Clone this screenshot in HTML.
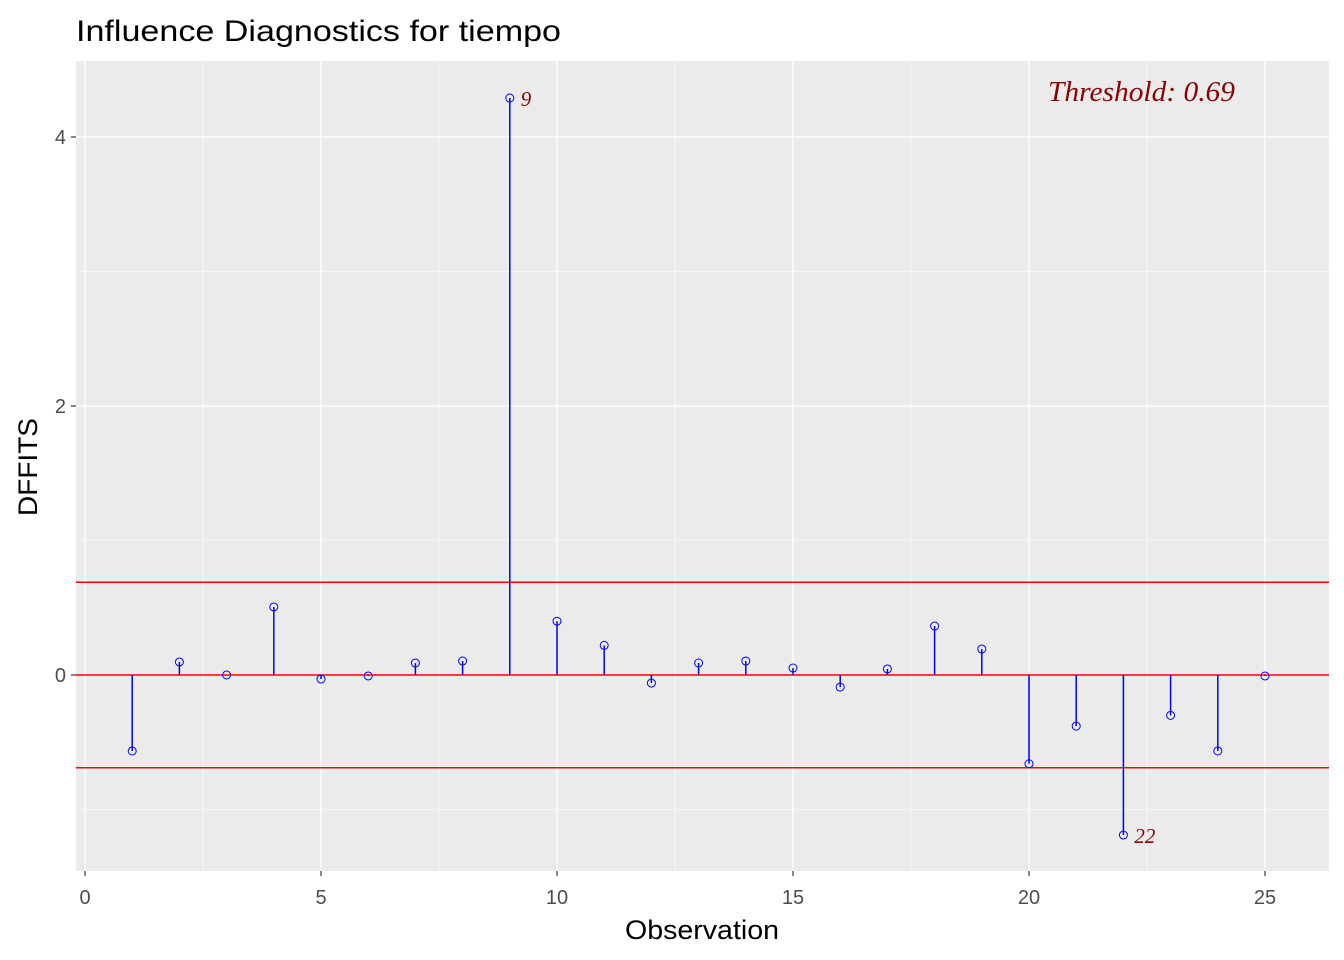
<!DOCTYPE html>
<html><head><meta charset="utf-8"><style>
html,body{margin:0;padding:0;background:#fff}
svg{display:block;font-family:"Liberation Sans",sans-serif}
</style></head><body>
<svg id="chart" width="1344" height="960" xmlns="http://www.w3.org/2000/svg">
<text x="76" y="41" font-size="30" textLength="485" lengthAdjust="spacingAndGlyphs" fill="#000">Influence Diagnostics for tiempo</text>
<rect x="76" y="61" width="1253" height="810" fill="#ebebeb"/>
<g id="grid"></g>
<g id="marks"></g>
<text x="1048" y="101" font-size="28" textLength="187" lengthAdjust="spacingAndGlyphs" font-style="italic" fill="#8b0000" font-family="Liberation Serif, serif">Threshold: 0.69</text>
<text x="625" y="939" font-size="27" textLength="154" lengthAdjust="spacingAndGlyphs" fill="#000">Observation</text>
<text transform="translate(37,516) rotate(-90)" font-size="27" textLength="98" lengthAdjust="spacingAndGlyphs" fill="#000">DFFITS</text>
</svg>
<script>
const observations=[1,2,3,4,5,6,7,8,9,10,11,12,13,14,15,16,17,18,19,20,21,22,23,24,25];
const dffits=[-0.565,0.097,0.0,0.506,-0.03,-0.007,0.089,0.104,4.29,0.40,0.22,-0.06,0.089,0.104,0.052,-0.09,0.045,0.364,0.193,-0.66,-0.38,-1.19,-0.30,-0.565,-0.007];
const threshold=0.69;
const xTicks=[0,5,10,15,20,25];
const yTicks=[0,2,4];
const xMinor=[2.5,7.5,12.5,17.5,22.5];
const yMinor=[-1,1,3];
const X=v=>85+v*47.2;
const Y=v=>675-v*134.5;
const NS="http://www.w3.org/2000/svg";
const svg=document.getElementById('chart');
const grid=document.getElementById('grid'),marks=document.getElementById('marks');
function mk(tag,attrs,parent){const e=document.createElementNS(NS,tag);for(const k in attrs)e.setAttribute(k,attrs[k]);parent.appendChild(e);return e;}
xMinor.forEach(v=>{const l=mk('line',{x1:X(v),x2:X(v),y1:61,y2:871,stroke:'#fff','stroke-width':0.6},grid);

});
yMinor.forEach(v=>{const l=mk('line',{x1:76,x2:1329,y1:Y(v),y2:Y(v),stroke:'#fff','stroke-width':0.6},grid);

});
xTicks.forEach(v=>{const l=mk('line',{x1:X(v),x2:X(v),y1:61,y2:871,stroke:'#fff','stroke-width':1.3},grid);


const t=mk('line',{x1:X(v),x2:X(v),y1:871,y2:876,stroke:'#333','stroke-width':1.2},svg);


const tx=mk('text',{x:X(v),y:904,'font-size':20,'text-anchor':'middle',fill:'#4d4d4d'},svg);tx.textContent=v;

});
yTicks.forEach(v=>{const l=mk('line',{x1:76,x2:1329,y1:Y(v),y2:Y(v),stroke:'#fff','stroke-width':1.3},grid);


const t=mk('line',{x1:71,x2:76,y1:Y(v),y2:Y(v),stroke:'#333','stroke-width':1.2},svg);


const tx=mk('text',{x:66,y:Y(v)+7,'font-size':20,'text-anchor':'end',fill:'#4d4d4d'},svg);tx.textContent=v;

});
[0,threshold,-threshold].forEach(v=>{const l=mk('line',{x1:76,x2:1329,y1:Y(v),y2:Y(v),stroke:'#ff0000','stroke-width':1.5},marks);

});
observations.forEach((o,i)=>{const v=dffits[i];
const s=mk('line',{x1:X(o),x2:X(o),y1:Y(0),y2:Y(v),stroke:'#0000ff','stroke-width':1.5},marks);


const c=mk('circle',{cx:X(o),cy:Y(v),r:4,fill:'none',stroke:'#0000ff','stroke-width':1},marks);


if(Math.abs(v)>threshold){const t=mk('text',{x:X(o)+11,y:Y(v)+8,'font-size':21,'font-style':'italic',fill:'#8b0000','font-family':'Liberation Serif, serif'},marks);t.textContent=o;

}
});
</script>
</body></html>
